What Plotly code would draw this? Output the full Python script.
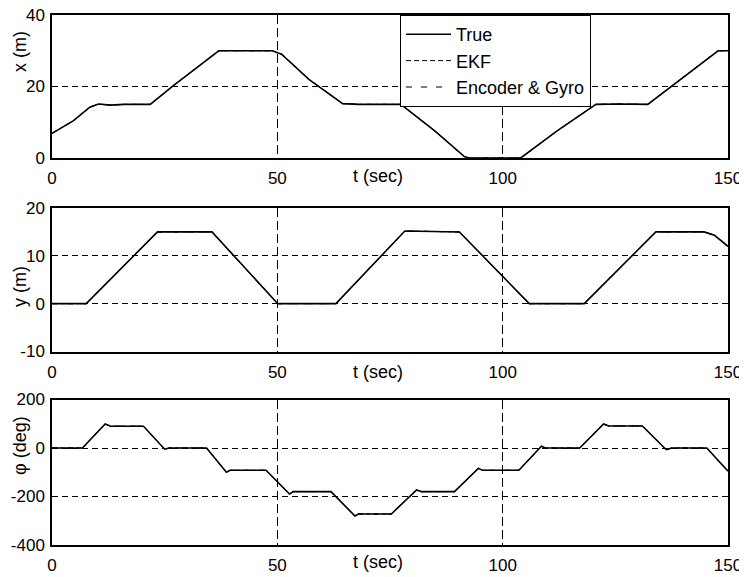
import plotly.graph_objects as go
from plotly.subplots import make_subplots

# ---- data (piecewise breakpoints) ----
t_x = [0, 1, 4.7, 8.4, 10.3, 12.9, 16, 21.8, 27, 37, 48.9, 51, 57, 64.5, 68,
       77.4, 85, 91.5, 92.6, 104, 112, 120.7, 126, 132.2, 140, 147.8, 150]
x_true = [6.9, 7.6, 10.4, 14.2, 15.1, 14.8, 15.0, 15.0, 20.3, 30, 30, 29, 22,
          15.2, 15, 15, 7.5, 0.4, 0, 0, 7.5, 15, 15.1, 15.0, 22.5, 30, 30]
x_ekf = list(x_true)
x_enc = list(x_true)

t_y = [0, 7.6, 23.4, 35.5, 50.1, 63, 78.3, 90.4, 105.9, 118.1, 134, 144.7, 147, 150]
y_true = [0, 0, 15, 15, 0, 0, 15.2, 15, 0, 0, 15, 15, 14.3, 12]
y_ekf = list(y_true)
y_enc = list(y_true)

t_phi = [0, 6.75, 11.8, 13, 20.3, 25, 26, 34.3, 38.7, 39.5, 47.5, 52.7, 53.5,
         61.9, 67.2, 68, 75.3, 80.9, 82, 89.3, 94.6, 95.5, 103.6, 108.6, 109.5,
         117.1, 122.4, 123.5, 131, 136.3, 137.5, 145.3, 150]
phi_true = [0, 0, 99, 90, 90, -5, 0, 0, -100, -92, -92, -190, -180, -180, -280,
            -272, -272, -173, -180, -180, -84, -92, -92, 7, 0, 0, 99, 91, 91,
            -7, 0, 0, -96]
phi_ekf = list(phi_true)
phi_enc = list(phi_true)

series_names = ["True", "EKF", "Encoder & Gyro"]
x_ticks = [0, 50, 100, 150]
y_ticks = [[0, 20, 40], [-10, 0, 10, 20], [-400, -200, 0, 200]]
y_ranges = [[0, 40], [-10, 20], [-400, 200]]
y_labels = ["x (m)", "y (m)", "φ (deg)"]
x_label = "t (sec)"

# ---- figure ----
# the page body has an 8px margin, so the figure starts at (8, 8) on screen
OFF = 8
W, H = 747 - OFF, 577 - OFF
ML, MR, MT, MB = 52 - OFF, 19, 15 - OFF, 32
PH = H - MT - MB
PW = W - ML - MR

def py(p):
    # screen pixel row -> paper fraction
    return (OFF + H - MB - p) / PH

domains = [[py(158), 1.0], [py(351.5), py(208)], [0.0, py(399.5)]]

fig = make_subplots(rows=3, cols=1)
styles = [dict(width=1.6, dash="solid"),
          dict(width=1, dash="5px,3px"),
          dict(width=1, dash="6px,9px")]
panels = [(t_x, [x_true, x_ekf, x_enc]),
          (t_y, [y_true, y_ekf, y_enc]),
          (t_phi, [phi_true, phi_ekf, phi_enc])]
for r, (tt, sers) in enumerate(panels, start=1):
    for k, s in enumerate(sers):
        fig.add_trace(go.Scatter(x=tt, y=s, mode="lines", name=series_names[k],
                                 line=dict(color="black", **styles[k]),
                                 showlegend=(r == 1)), row=r, col=1)

tickfont = dict(family="Liberation Sans, Arial, sans-serif", size=17, color="black")
for r in range(1, 4):
    xa = "xaxis" if r == 1 else f"xaxis{r}"
    ya = "yaxis" if r == 1 else f"yaxis{r}"
    fig.layout[xa].update(range=[0, 150], tickvals=x_ticks,
                          ticktext=[str(v) for v in x_ticks], domain=[0, 1],
                          showline=True, mirror=True, linecolor="black", linewidth=1.5,
                          showgrid=True, gridcolor="black", gridwidth=1, griddash="9px,4px",
                          zeroline=False, ticks="", tickfont=tickfont, automargin=False,
                          ticklabelstandoff=4, ticklabeloverflow="allow")
    fig.layout[ya].update(range=y_ranges[r - 1], tickvals=y_ticks[r - 1],
                          ticktext=[str(v) for v in y_ticks[r - 1]],
                          domain=domains[r - 1],
                          showline=True, mirror=True, linecolor="black", linewidth=1.5,
                          showgrid=True, gridcolor="black", gridwidth=1, griddash="6px,4px",
                          zeroline=False, ticks="", tickfont=tickfont, automargin=False,
                          ticklabelstandoff=2, ticklabeloverflow="allow")

labfont = dict(family="Liberation Sans, Arial, sans-serif", size=18, color="black")
ann = []
xl_y = [py(176), py(372), py(562)]
for yy in xl_y:
    ann.append(dict(text=x_label, xref="paper", yref="paper", x=(378 - 52) / PW, y=yy,
                    xanchor="center", yanchor="middle", showarrow=False, font=labfont))
yl_y = [py(52), py(287), py(446)]
for txt, yy in zip(y_labels, yl_y):
    ann.append(dict(text=txt, xref="paper", yref="paper", x=(20 - 52) / PW, y=yy,
                    xanchor="center", yanchor="middle", showarrow=False, textangle=-90,
                    font=labfont))

fig.update_layout(
    width=W, height=H,
    margin=dict(l=ML, r=MR, t=MT, b=MB, autoexpand=False),
    paper_bgcolor="white", plot_bgcolor="white",
    annotations=ann,
    legend=dict(x=(400 - 52) / PW, y=1.0, xanchor="left", yanchor="top",
                bgcolor="white", bordercolor="black", borderwidth=1,
                font=dict(family="Liberation Sans, Arial, sans-serif", size=18, color="black"),
                itemwidth=45, tracegroupgap=0, entrywidth=155, entrywidthmode="pixels"),
)

fig.write_html("out.html")
